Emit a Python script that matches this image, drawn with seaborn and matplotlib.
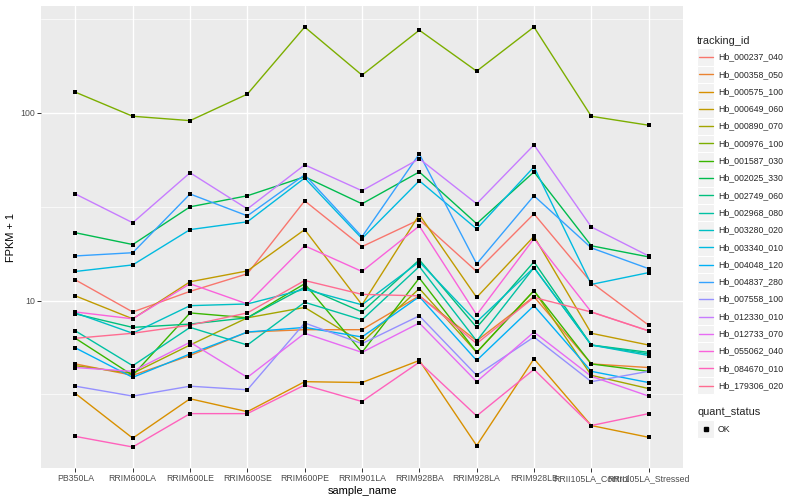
import matplotlib
matplotlib.use("Agg")
import matplotlib.pyplot as plt
from matplotlib.lines import Line2D
from matplotlib.patches import Rectangle
from matplotlib.ticker import FixedLocator, NullFormatter
import seaborn as sns
import pandas as pd
import numpy as np

samples = ["PB350LA", "RRIM600LA", "RRIM600LE", "RRIM600SE", "RRIM600PE", "RRIM901LA",
           "RRIM928BA", "RRIM928LA", "RRIM928LB", "RRII105LA_Control", "RRII105LA_Stressed"]

tracking_ids = ["Hb_000237_040", "Hb_000358_050", "Hb_000575_100", "Hb_000649_060",
                "Hb_000890_070", "Hb_000976_100", "Hb_001587_030", "Hb_002025_330",
                "Hb_002749_060", "Hb_002968_080", "Hb_003280_020", "Hb_003340_010",
                "Hb_004048_120", "Hb_004837_280", "Hb_007558_100", "Hb_012330_010",
                "Hb_012733_070", "Hb_055062_040", "Hb_084670_010", "Hb_179306_020"]

# ggplot hue palette for 20 levels
colors = ["#F8766D", "#EA8331", "#D89000", "#C09B00", "#A3A500", "#7CAE00", "#39B600",
          "#00BB4E", "#00BF7D", "#00C1A3", "#00BFC4", "#00BAE0", "#00B0F6", "#35A2FF",
          "#9590FF", "#C77CFF", "#E76BF3", "#FA62DB", "#FF62BC", "#FF6C91"]

# FPKM + 1 per sample, in the order of `samples`
Hb_000237_040 = [12.9, 8.7, 11.2, 13.9, 34, 19.4, 27, 14.3, 29, 12.5, 7.4]
Hb_000358_050 = [4.6, 4.0, 5.1, 6.8, 7.0, 7.0, 10.6, 6.1, 10.5, 4.6, 4.4]
Hb_000575_100 = [3.2, 1.85, 3.0, 2.56, 3.7, 3.66, 4.8, 1.69, 4.9, 2.16, 1.87]
Hb_000649_060 = [10.6, 8.0, 12.6, 14.4, 23.9, 9.5, 28.7, 10.4, 22, 6.7, 5.8]
Hb_000890_070 = [4.5, 4.1, 5.8, 8.1, 9.2, 6.0, 11.6, 5.3, 11.3, 4.0, 3.4]
Hb_000976_100 = [129, 96, 91, 126, 287, 159, 276, 167, 287, 96, 86]
Hb_001587_030 = [6.3, 4.0, 8.6, 8.1, 12.3, 5.3, 13.2, 5.3, 11.3, 4.6, 4.2]
Hb_002025_330 = [23, 19.9, 31.6, 36.2, 45.7, 32.8, 48.5, 25.7, 48.5, 19.6, 17.1]
Hb_002749_060 = [8.5, 7.2, 7.5, 8.1, 11.8, 8.7, 16.5, 7.2, 16.1, 5.8, 5.3]
Hb_002968_080 = [6.9, 4.5, 7.2, 5.8, 9.8, 7.9, 15.2, 6.1, 15, 5.8, 5.2]
Hb_003280_020 = [8.6, 6.7, 9.4, 9.6, 11.5, 9.5, 16.1, 7.7, 15, 5.8, 5.1]
Hb_003340_010 = [14.3, 15.5, 23.9, 26.3, 45, 21.4, 43.5, 24.1, 51.6, 12.2, 14.1]
Hb_004048_120 = [5.6, 3.9, 5.2, 6.8, 7.2, 6.4, 10.5, 4.8, 9.4, 4.2, 3.66]
Hb_004837_280 = [17.3, 18, 37, 28.3, 46.8, 21.9, 60.5, 15.7, 36.2, 19.1, 14.8]
Hb_007558_100 = [3.5, 3.1, 3.5, 3.35, 7.6, 5.9, 8.3, 4.0, 6.4, 3.7, 4.2]
Hb_012330_010 = [37, 26, 48, 30.8, 52.9, 38.5, 57, 32.8, 67.6, 24.7, 17.3]
Hb_012733_070 = [4.4, 4.2, 6.0, 3.9, 6.7, 5.3, 7.6, 3.7, 6.8, 3.95, 3.1]
Hb_055062_040 = [8.7, 8.0, 12.3, 9.6, 19.6, 14.3, 25, 8.4, 21.4, 8.7, 6.9]
Hb_084670_010 = [1.89, 1.66, 2.5, 2.5, 3.55, 2.9, 4.7, 2.43, 4.3, 2.16, 2.5]
Hb_179306_020 = [6.3, 6.7, 7.4, 8.6, 12.8, 10.8, 10.6, 5.9, 10.4, 8.7, 6.9]

series = [Hb_000237_040, Hb_000358_050, Hb_000575_100, Hb_000649_060, Hb_000890_070,
          Hb_000976_100, Hb_001587_030, Hb_002025_330, Hb_002749_060, Hb_002968_080,
          Hb_003280_020, Hb_003340_010, Hb_004048_120, Hb_004837_280, Hb_007558_100,
          Hb_012330_010, Hb_012733_070, Hb_055062_040, Hb_084670_010, Hb_179306_020]

rows = []
for tid, vals in zip(tracking_ids, series):
    for i, (s, v) in enumerate(zip(samples, vals)):
        rows.append({"tracking_id": tid, "sample_name": s, "pos": i, "fpkm": v, "quant_status": "OK"})
df = pd.DataFrame(rows)

sns.set_theme(style="darkgrid")
plt.rcParams["font.family"] = ["Liberation Sans", "DejaVu Sans"]

fig = plt.figure(figsize=(8, 5), dpi=100)
ax = fig.add_axes([41 / 800, 1 - 468 / 500, 642 / 800, 462 / 500])
ax.set_facecolor("#EBEBEB")

sns.lineplot(data=df, x="pos", y="fpkm", hue="tracking_id", hue_order=tracking_ids,
             palette=colors, estimator=None, sort=False, linewidth=1.0, legend=False, ax=ax)
sns.scatterplot(data=df, x="pos", y="fpkm", color="black", marker="s", s=7,
                linewidth=0, legend=False, ax=ax, zorder=5)

ax.set_yscale("log")
lo, hi = np.log10(df.fpkm.min()), np.log10(df.fpkm.max())
pad = (hi - lo) * 0.05
ax.set_ylim(10 ** (lo - pad), 10 ** (hi + pad))
ax.set_xlim(-0.6, len(samples) - 0.4)

ax.yaxis.set_major_locator(FixedLocator([10, 100]))
ax.set_yticklabels(["10", "100"])
ax.yaxis.set_minor_locator(FixedLocator([10 ** 0.5, 10 ** 1.5, 10 ** 2.5]))
ax.yaxis.set_minor_formatter(NullFormatter())
ax.set_xticks(range(len(samples)))
ax.set_xticklabels(samples)

ax.grid(which="major", color="white", linewidth=1.0)
ax.grid(which="minor", axis="y", color="white", linewidth=0.5)
ax.tick_params(which="major", length=2.8, width=0.7, color="#333333", labelsize=6.3,
               labelcolor="#4D4D4D", pad=1.5, bottom=True, left=True)
ax.tick_params(which="minor", length=0)
for sp in ax.spines.values():
    sp.set_visible(False)

ax.set_xlabel("sample_name", fontsize=7.9, color="black", labelpad=2)
ax.set_ylabel("FPKM + 1", fontsize=7.9, color="black", labelpad=3)

# legends drawn in ggplot style on the right
W, H = 800, 500
def fx(px):
    return px / W
def fy(py):
    return 1 - py / H

fig.text(fx(697), fy(41), "tracking_id", fontsize=7.9, va="center", ha="left")
key = 17.3
for i, (tid, c) in enumerate(zip(tracking_ids, colors)):
    cy = 57 + i * key
    fig.patches.append(Rectangle((fx(697), fy(cy + key / 2)), key / W, key / H,
                                 transform=fig.transFigure, facecolor="#F2F2F2",
                                 edgecolor="white", linewidth=0.8))
    fig.lines.append(Line2D([fx(698.5), fx(712.5)], [fy(cy), fy(cy)], color=c,
                            linewidth=1.0, transform=fig.transFigure))
    fig.text(fx(718), fy(cy), tid, fontsize=6.3, va="center", ha="left")

fig.text(fx(697), fy(412), "quant_status", fontsize=7.9, va="center", ha="left")
cy = 429
fig.patches.append(Rectangle((fx(697), fy(cy + key / 2)), key / W, key / H,
                             transform=fig.transFigure, facecolor="#F2F2F2",
                             edgecolor="white", linewidth=0.8))
fig.lines.append(Line2D([fx(697 + key / 2)], [fy(cy)], marker="s", markersize=2.6,
                        color="black", linestyle="none", transform=fig.transFigure))
fig.text(fx(718), fy(cy), "OK", fontsize=6.3, va="center", ha="left")

fig.savefig("out.png", dpi=100, facecolor="white")
